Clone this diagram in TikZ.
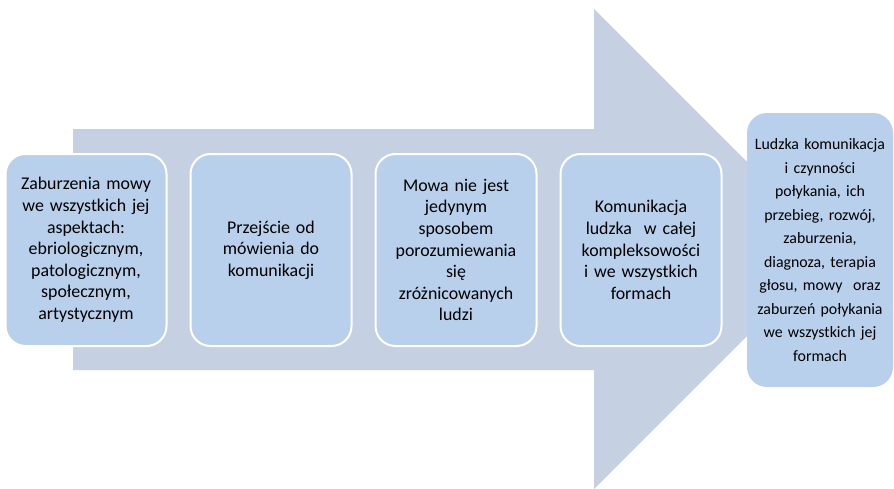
\documentclass[tikz,border=0pt]{standalone}
\usepackage{fontspec}
\setmainfont{Carlito}
\usetikzlibrary{positioning}

\definecolor{arrowfill}{HTML}{C5D0E2}
\definecolor{boxfill}{HTML}{B8D0EB}

\tikzset{
    stepbox/.style={draw=white, line width=1.5pt, fill=boxfill, rounded corners=15pt,
        minimum width=120.75pt, minimum height=144pt, text width=112pt, align=center,
        inner sep=0pt, font=\fontsize{13.4}{16.2}\selectfont},
    goalbox/.style={fill=boxfill, rounded corners=15pt,
        minimum width=109.5pt, minimum height=205.5pt, text width=106pt, align=center,
        inner sep=0pt, font=\fontsize{11.9}{17.6}\selectfont}
}

\begin{document}
\begin{tikzpicture}[x=0.75pt, y=-0.75pt]

    \useasboundingbox (0,0) rectangle (894,489);

    % -------------------------------------------------------------
    % Big background arrow
    % -------------------------------------------------------------
    \fill[arrowfill] (73,129) -- (594,129) -- (594,9) -- (834,249)
        -- (594,489) -- (594,370) -- (73,370) -- cycle;

    % -------------------------------------------------------------
    % Four steps along the arrow
    % -------------------------------------------------------------
    \node[stepbox] (S1) at (86,250) {Zaburzenia mowy\\ we wszystkich jej\\ aspektach:\\ ebriologicznym,\\ patologicznym,\\ społecznym,\\ artystycznym};
    \node[stepbox] (S2) [right=16.5pt of S1] {Przejście od\\ mówienia do\\ komunikacji};
    \node[stepbox] (S3) [right=16.5pt of S2] {Mowa nie jest\\ jedynym\\ sposobem\\ porozumiewania\\ się\\ zróżnicowanych\\ ludzi};
    \node[stepbox] (S4) [right=16.5pt of S3] {Komunikacja\\ ludzka\ \ w całej\\ kompleksowości\\ i we wszystkich\\ formach};

    % -------------------------------------------------------------
    % Goal at the arrow tip
    % -------------------------------------------------------------
    \node[goalbox] (G) at (820,250) {Ludzka komunikacja\\ i czynności\\ połykania, ich\\ przebieg, rozwój,\\ zaburzenia,\\ diagnoza, terapia\\ głosu, mowy\ \ oraz\\ zaburzeń połykania\\ we wszystkich jej\\ formach};

\end{tikzpicture}
\end{document}
